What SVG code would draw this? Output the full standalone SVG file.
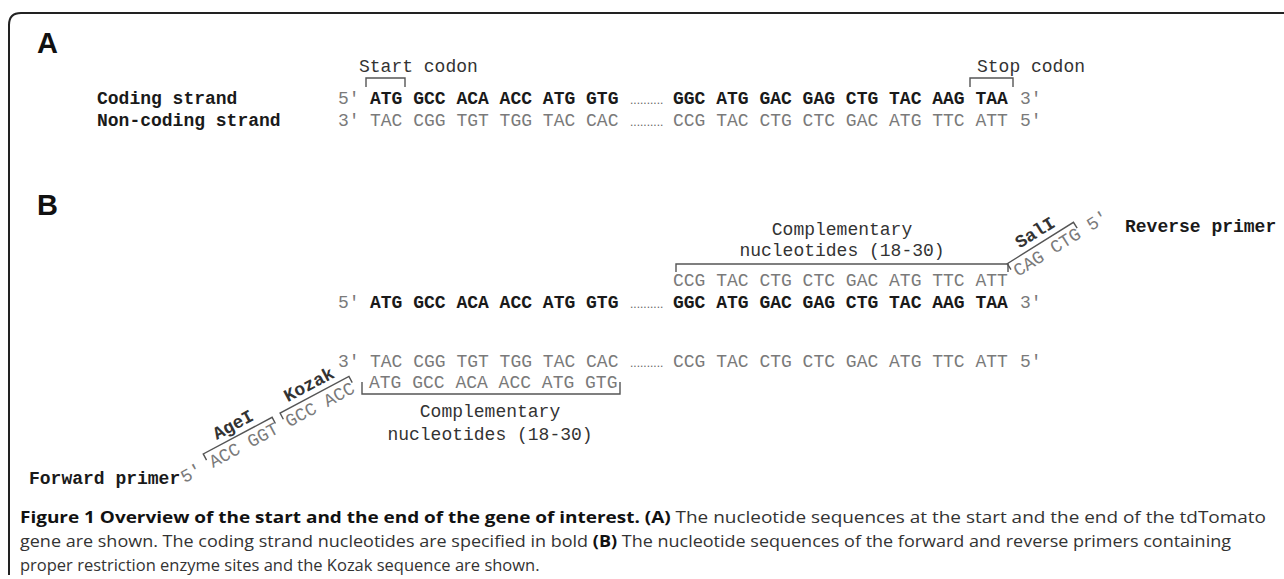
<svg xmlns="http://www.w3.org/2000/svg" width="1284" height="579" viewBox="0 0 1284 579">
<style>
.seq{font-family:"Liberation Mono","DejaVu Sans Mono",monospace;font-size:18px}
.b{font-weight:bold;fill:#1a1a1a}
.g{fill:#7a7a7a}
.lab{fill:#333}
.dots{font-family:"Liberation Sans",Arial,sans-serif;font-size:12px;fill:#666}
.panel{font-family:"Liberation Sans",Arial,sans-serif;font-size:29px;font-weight:bold;fill:#111}
.br{fill:none;stroke:#555;stroke-width:1.4}
.cap{font-family:"Open Sans","Liberation Sans",sans-serif;font-size:16.5px;fill:#333}
.capb{font-weight:bold;fill:#111}
</style>
<rect width="1284" height="579" fill="#fff"/>
<path d="M9 575 V25 Q9 13 21 13 H1284" fill="none" stroke="#222" stroke-width="2"/>

<g id="panel-A">
  <text class="panel" x="37" y="53">A</text>
  <g id="A-start-label"><text class="seq lab" x="359" y="72">Start codon</text></g>
  <g id="A-stop-label"><text class="seq lab" x="977" y="72">Stop codon</text></g>
  <g id="A-coding">
    <text class="seq b" x="97" y="104">Coding strand</text>
    <text class="seq g" x="338" y="104">5′</text>
    <text class="seq b" x="370" y="104">ATG GCC ACA ACC ATG GTG</text>
    <text class="dots" x="630" y="104">..........</text>
    <text class="seq b" x="673" y="104">GGC ATG GAC GAG CTG TAC AAG TAA</text>
    <text class="seq g" x="1020" y="104">3′</text>
  </g>
  <g id="A-noncoding">
    <text class="seq b" x="97" y="126">Non-coding strand</text>
    <text class="seq g" x="338" y="126">3′</text>
    <text class="seq g" x="370" y="126">TAC CGG TGT TGG TAC CAC</text>
    <text class="dots" x="630" y="126">..........</text>
    <text class="seq g" x="673" y="126">CCG TAC CTG CTC GAC ATG TTC ATT</text>
    <text class="seq g" x="1020" y="126">5′</text>
  </g>
</g>

<g id="panel-B">
  <text class="panel" x="37" y="215">B</text>
  <g id="B-rev-comp-label">
    <text class="seq lab" x="842" y="235" text-anchor="middle">Complementary</text>
    <text class="seq lab" x="842" y="256" text-anchor="middle">nucleotides (18-30)</text>
  </g>
  <g id="B-rev-comp">
    <text class="seq g" x="673" y="286">CCG TAC CTG CTC GAC ATG TTC ATT</text>
  </g>
  <g id="B-reverse-primer">
    <g transform="translate(1018,277) rotate(-32)">
      <text class="seq g" x="0" y="0">CAG CTG 5'</text>
      <text class="seq b" x="38" y="-23" text-anchor="middle" style="fill:#333">SalI</text>
    </g>
    <text class="seq b" x="1125" y="232">Reverse primer</text>
  </g>
  <g id="B-coding">
    <text class="seq g" x="338" y="308">5′</text>
    <text class="seq b" x="370" y="308">ATG GCC ACA ACC ATG GTG</text>
    <text class="dots" x="630" y="308">..........</text>
    <text class="seq b" x="673" y="308">GGC ATG GAC GAG CTG TAC AAG TAA</text>
    <text class="seq g" x="1020" y="308">3′</text>
  </g>
  <g id="B-noncoding">
    <text class="seq g" x="338" y="367">3′</text>
    <text class="seq g" x="370" y="367">TAC CGG TGT TGG TAC CAC</text>
    <text class="dots" x="630" y="367">..........</text>
    <text class="seq g" x="673" y="367">CCG TAC CTG CTC GAC ATG TTC ATT</text>
    <text class="seq g" x="1020" y="367">5′</text>
  </g>
  <g id="B-fwd-comp">
    <text class="seq g" x="369" y="388">ATG GCC ACA ACC ATG GTG</text>
  </g>
  <g id="B-fwd-comp-label">
    <text class="seq lab" x="490" y="417" text-anchor="middle">Complementary</text>
    <text class="seq lab" x="490" y="440" text-anchor="middle">nucleotides (18-30)</text>
  </g>
  <g id="B-forward-primer">
    <text class="seq b" x="29" y="484">Forward primer</text>
    <g transform="translate(213,468) rotate(-28)">
      <text class="seq g" x="-32.4" y="0">5' ACC GGT GCC ACC</text>
      <text class="seq b" x="38" y="-23" text-anchor="middle" style="fill:#333">AgeI</text>
      <text class="seq b" x="124" y="-23" text-anchor="middle" style="fill:#333">Kozak</text>
    </g>
  </g>
</g>

<g id="connectors">
  <path class="br" d="M366 87 V78 H405 V87"/>
  <path class="br" d="M970 87 V78 H1013 V87"/>
  <path class="br" d="M676 272 V264 H1008 V272"/>
  <path class="br" d="M362 382 V394 H620 V382"/>
  <g transform="translate(1018,277) rotate(-32)">
    <path class="br" d="M-2 -10 V-17 H76 V-10"/>
  </g>
  <g transform="translate(213,468) rotate(-28)">
    <path class="br" d="M-2 -10 V-17 H76 V-10"/>
    <path class="br" d="M85 -10 V-17 H163 V-10"/>
  </g>
</g>

<g id="caption">
  <text class="cap" x="20" y="523" textLength="1246" lengthAdjust="spacingAndGlyphs"><tspan class="capb">Figure 1 Overview of the start and the end of the gene of interest. (A)</tspan> The nucleotide sequences at the start and the end of the tdTomato</text>
  <text class="cap" x="20" y="547" textLength="1211" lengthAdjust="spacingAndGlyphs">gene are shown. The coding strand nucleotides are specified in bold <tspan class="capb">(B)</tspan> The nucleotide sequences of the forward and reverse primers containing</text>
  <text class="cap" x="20" y="571">proper restriction enzyme sites and the Kozak sequence are shown.</text>
</g>
</svg>
